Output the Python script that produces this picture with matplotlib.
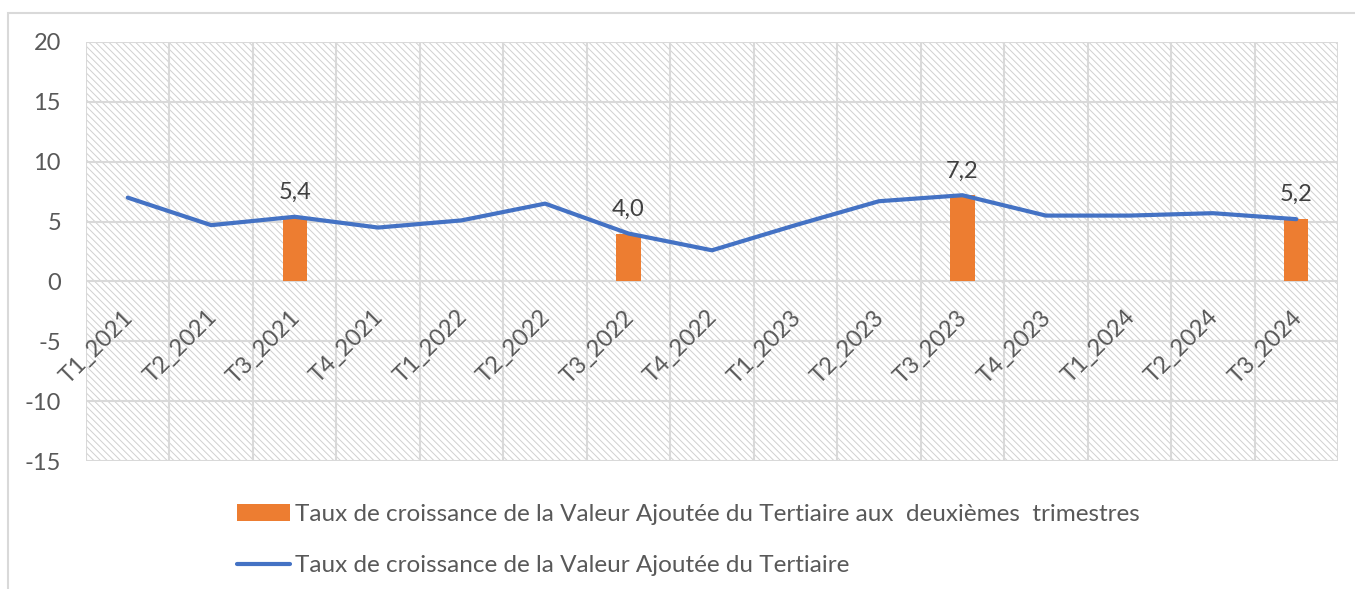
import matplotlib

matplotlib.use("Agg")

import matplotlib.pyplot as plt  # noqa: E402
from matplotlib.patches import Rectangle  # noqa: E402
import matplotlib.transforms as mtransforms  # noqa: E402

quarters = [
    "T1_2021", "T2_2021", "T3_2021", "T4_2021",
    "T1_2022", "T2_2022", "T3_2022", "T4_2022",
    "T1_2023", "T2_2023", "T3_2023", "T4_2023",
    "T1_2024", "T2_2024", "T3_2024",
]
growth = [7.0, 4.7, 5.4, 4.5, 5.1, 6.5, 4.0, 2.6, 4.7, 6.7, 7.2, 5.5, 5.5, 5.7, 5.2]
bar_quarters = ["T3_2021", "T3_2022", "T3_2023", "T3_2024"]
bar_values = [5.4, 4.0, 7.2, 5.2]
y_ticks = [-15, -10, -5, 0, 5, 10, 15, 20]

bar_label = "Taux de croissance de la Valeur Ajoutée du Tertiaire aux  deuxièmes  trimestres"
line_label = "Taux de croissance de la Valeur Ajoutée du Tertiaire"

TEXT = "#595959"
GRID = "#d9d9d9"
plt.rcParams["font.family"] = ["Lato", "DejaVu Sans"]
plt.rcParams["hatch.linewidth"] = 0.7

fig = plt.figure(figsize=(13.55, 5.89), dpi=100)
fig.patches.append(Rectangle((8 / 1355, -0.1), 1.1, 0.1 + (589 - 13) / 589,
                             transform=fig.transFigure, fill=False,
                             edgecolor=GRID, linewidth=1.5))
ax = fig.add_axes([86 / 1355, (589 - 461) / 589, (1338 - 86) / 1355, (461 - 42) / 589])

ax.add_patch(Rectangle((0, 0), 1, 1, transform=ax.transAxes, facecolor="white",
                       edgecolor="#d0d0d0", hatch="\\\\\\\\\\", linewidth=0, zorder=0))

x = list(range(len(quarters)))
bar_x = [quarters.index(q) for q in bar_quarters]
bars = ax.bar(bar_x, bar_values, width=0.29, color="#ed7d31", zorder=3, label=bar_label)
ax.plot(x, growth, color="#4472c4", linewidth=3, zorder=4, label=line_label,
        solid_capstyle="round", solid_joinstyle="round")

for bx, v in zip(bar_x, bar_values):
    ax.annotate(f"{v:.1f}".replace(".", ","), (bx, v), xytext=(0, 10),
                textcoords="offset points", ha="center", va="bottom",
                fontsize=17, color="#404040", zorder=5)

ax.set_xlim(-0.5, len(quarters) - 0.5)
ax.set_ylim(-15, 20)
ax.set_yticks(y_ticks)
ax.set_yticklabels([str(t) for t in y_ticks], fontsize=17, color=TEXT)
ax.set_xticks([i - 0.5 for i in range(len(quarters) + 1)])
ax.set_xticklabels([])
ax.tick_params(axis="y", length=0, pad=18)
ax.tick_params(axis="x", length=0)
ax.grid(True, color=GRID, linewidth=1.5, zorder=1)
ax.set_axisbelow(True)
for s in ax.spines.values():
    s.set_visible(False)

offset = mtransforms.ScaledTranslation(-7 / 100, -25 / 100, fig.dpi_scale_trans)
for i, q in enumerate(quarters):
    ax.text(i + 0.02, 0, q, rotation=45, ha="right", va="top", rotation_mode="anchor",
            fontsize=17, color=TEXT, transform=ax.transData + offset, zorder=5)

fig.legend(handles=[bars, ax.get_lines()[0]], labels=[bar_label, line_label],
           loc="upper left", bbox_to_anchor=(215 / 1355, 1 - 482 / 589),
           frameon=False, fontsize=17.5, labelcolor=TEXT, handlelength=2.2,
           handletextpad=0.2, labelspacing=1.25)

fig.savefig("out.png", dpi=100)
plt.close(fig)
